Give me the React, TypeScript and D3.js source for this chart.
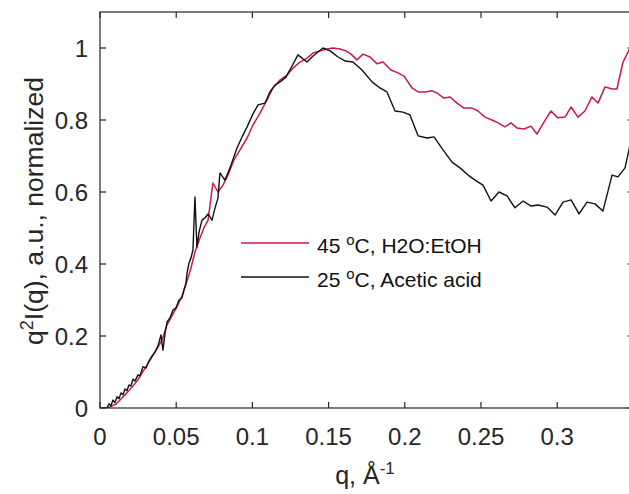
import React from "react";
import * as d3 from "d3";

const redQ = [0,0.0039,0.0066,0.0105,0.0144,0.0177,0.021,0.0243,0.0276,0.0308,0.0341,0.0374,0.0407,0.044,0.0472,0.0505,0.0538,0.0571,0.0597,0.0623,0.0656,0.0682,0.0709,0.0741,0.0774,0.0807,0.084,0.0879,0.0919,0.0965,0.1004,0.105,0.1096,0.1135,0.1181,0.1227,0.1266,0.1312,0.1358,0.1398,0.1444,0.149,0.1529,0.1575,0.1614,0.1647,0.1686,0.1726,0.1772,0.1818,0.1857,0.1909,0.1955,0.1995,0.2047,0.2087,0.2133,0.2178,0.2211,0.2257,0.2297,0.2343,0.2388,0.2441,0.248,0.2526,0.2572,0.2612,0.2657,0.2697,0.2736,0.2782,0.2828,0.2867,0.2913,0.2959,0.3005,0.3051,0.3091,0.3136,0.3182,0.3228,0.3268,0.3314,0.336,0.3392,0.3432,0.3471,0.351];
const redI = [0,0,0.003,0.011,0.028,0.042,0.058,0.075,0.097,0.119,0.142,0.164,0.189,0.231,0.256,0.281,0.311,0.353,0.389,0.433,0.472,0.5,0.522,0.625,0.6,0.619,0.647,0.689,0.717,0.75,0.786,0.819,0.856,0.889,0.911,0.925,0.944,0.961,0.972,0.986,0.992,0.997,1.0,0.997,0.992,0.983,0.967,0.983,0.975,0.956,0.961,0.939,0.931,0.922,0.889,0.878,0.878,0.881,0.875,0.861,0.864,0.847,0.833,0.833,0.825,0.808,0.8,0.792,0.781,0.792,0.778,0.775,0.783,0.761,0.794,0.825,0.806,0.808,0.836,0.808,0.825,0.864,0.847,0.892,0.886,0.886,0.961,0.994,1.02];

const blackQ = [0.0046,0.0059,0.0072,0.0085,0.0098,0.0112,0.0125,0.0138,0.0151,0.0164,0.0177,0.019,0.0203,0.0217,0.023,0.0249,0.0262,0.0282,0.0302,0.0322,0.0341,0.0361,0.038,0.04,0.0413,0.0427,0.044,0.0459,0.0479,0.0499,0.0518,0.0538,0.0551,0.0564,0.0571,0.0584,0.0597,0.061,0.0623,0.0636,0.065,0.0669,0.0689,0.0709,0.0735,0.0755,0.0774,0.0787,0.082,0.0853,0.0899,0.0932,0.0965,0.1004,0.1037,0.1083,0.1115,0.1148,0.1188,0.122,0.126,0.1299,0.1358,0.1398,0.143,0.1463,0.151,0.1562,0.1608,0.166,0.1719,0.1785,0.1837,0.1883,0.1936,0.1988,0.2034,0.2087,0.2146,0.2192,0.2251,0.231,0.2362,0.2415,0.2461,0.2513,0.2566,0.2618,0.2671,0.2723,0.2776,0.2828,0.2874,0.2933,0.2986,0.3038,0.3091,0.3143,0.3196,0.3248,0.33,0.336,0.3399,0.3445,0.3471,0.3504];
const blackI = [0,0.012,0.006,0.022,0.015,0.031,0.026,0.042,0.037,0.053,0.048,0.064,0.061,0.08,0.075,0.092,0.089,0.115,0.111,0.131,0.144,0.156,0.172,0.203,0.161,0.208,0.239,0.25,0.272,0.278,0.3,0.306,0.328,0.347,0.375,0.403,0.417,0.439,0.586,0.447,0.489,0.522,0.528,0.539,0.522,0.556,0.583,0.653,0.633,0.667,0.722,0.753,0.781,0.817,0.842,0.847,0.878,0.897,0.908,0.919,0.95,0.981,0.961,0.978,0.989,1.0,0.992,0.975,0.964,0.961,0.939,0.906,0.889,0.878,0.825,0.822,0.814,0.756,0.75,0.753,0.717,0.683,0.667,0.647,0.633,0.619,0.575,0.6,0.589,0.556,0.575,0.561,0.564,0.558,0.536,0.572,0.578,0.539,0.572,0.567,0.547,0.647,0.642,0.667,0.717,0.8];

const xTicks = [0, 0.05, 0.1, 0.15, 0.2, 0.25, 0.3];
const yTicks = [0, 0.2, 0.4, 0.6, 0.8, 1];
const legendLabels = ["45", "25"];
const legendRest = ["C, H2O:EtOH", "C, Acetic acid"];

const W = 629, H = 494;
const left = 100, right = 633.4, top = 12, bottom = 408;
const axisColor = "#262626";
const red = "#cc1a44";
const font = "'Liberation Sans', Arial, Helvetica, sans-serif";

export default function App() {
  const x = d3.scaleLinear().domain([0, 0.35]).range([left, right]);
  const y = d3.scaleLinear().domain([0, 1.1]).range([bottom, top]);
  const line = d3.line<[number, number]>().x(d => x(d[0])).y(d => y(d[1]));
  const redPts: [number, number][] = redQ.map((q, i) => [q, redI[i]]);
  const blackPts: [number, number][] = blackQ.map((q, i) => [q, blackI[i]]);
  const tl = 6;
  const legendColors = [red, "#111"];
  const legendY = [243, 277];
  return (
    <svg width={W} height={H} style={{ position: "absolute", left: 0, top: 0, background: "#fff" }}>
      <defs>
        <clipPath id="plotclip">
          <rect x={left} y={top} width={right - left} height={bottom - top} />
        </clipPath>
      </defs>
      <rect x={0} y={0} width={W} height={H} fill="#fff" />
      <g clipPath="url(#plotclip)">
        <path d={line(redPts) || ""} fill="none" stroke={red} strokeWidth={1.5} strokeLinejoin="round" />
        <path d={line(blackPts) || ""} fill="none" stroke="#111" strokeWidth={1.4} strokeLinejoin="round" />
      </g>
      <rect x={left} y={top} width={right - left} height={bottom - top} fill="none" stroke={axisColor} strokeWidth={1.2} />
      {xTicks.map(t => (
        <g key={"x" + t}>
          <line x1={x(t)} x2={x(t)} y1={bottom} y2={bottom - tl} stroke={axisColor} strokeWidth={1.2} />
          <line x1={x(t)} x2={x(t)} y1={top} y2={top + tl} stroke={axisColor} strokeWidth={1.2} />
          <text x={x(t)} y={445} textAnchor="middle" fontFamily={font} fontSize={24} fill={axisColor}>{String(t)}</text>
        </g>
      ))}
      {yTicks.map(t => (
        <g key={"y" + t}>
          <line x1={left} x2={left + tl} y1={y(t)} y2={y(t)} stroke={axisColor} strokeWidth={1.2} />
          <line x1={right} x2={right - tl} y1={y(t)} y2={y(t)} stroke={axisColor} strokeWidth={1.2} />
          <text x={88} y={y(t) + 8.5} textAnchor="end" fontFamily={font} fontSize={24} fill={axisColor}>{String(t)}</text>
        </g>
      ))}
      <text x={365} y={484} textAnchor="middle" fontFamily={font} fontSize={25} fill={axisColor}>
        q, Å<tspan dy={-10} fontSize={17}>-1</tspan>
      </text>
      <text transform="translate(43,211) rotate(-90)" textAnchor="middle" fontFamily={font} fontSize={26.5} fill={axisColor}>
        q<tspan dy={-10} fontSize={18}>2</tspan><tspan dy={10}>I(q), a.u., normalized</tspan>
      </text>
      {legendLabels.map((lab, i) => (
        <g key={"lg" + i}>
          <line x1={241} x2={309} y1={legendY[i]} y2={legendY[i]} stroke={legendColors[i]} strokeWidth={1.5} />
          <text x={317} y={legendY[i] + 9.5} fontFamily={font} fontSize={21} fill="#111">
            {lab} <tspan dy={-8} fontSize={15}>o</tspan><tspan dy={8}>{legendRest[i]}</tspan>
          </text>
        </g>
      ))}
    </svg>
  );
}
